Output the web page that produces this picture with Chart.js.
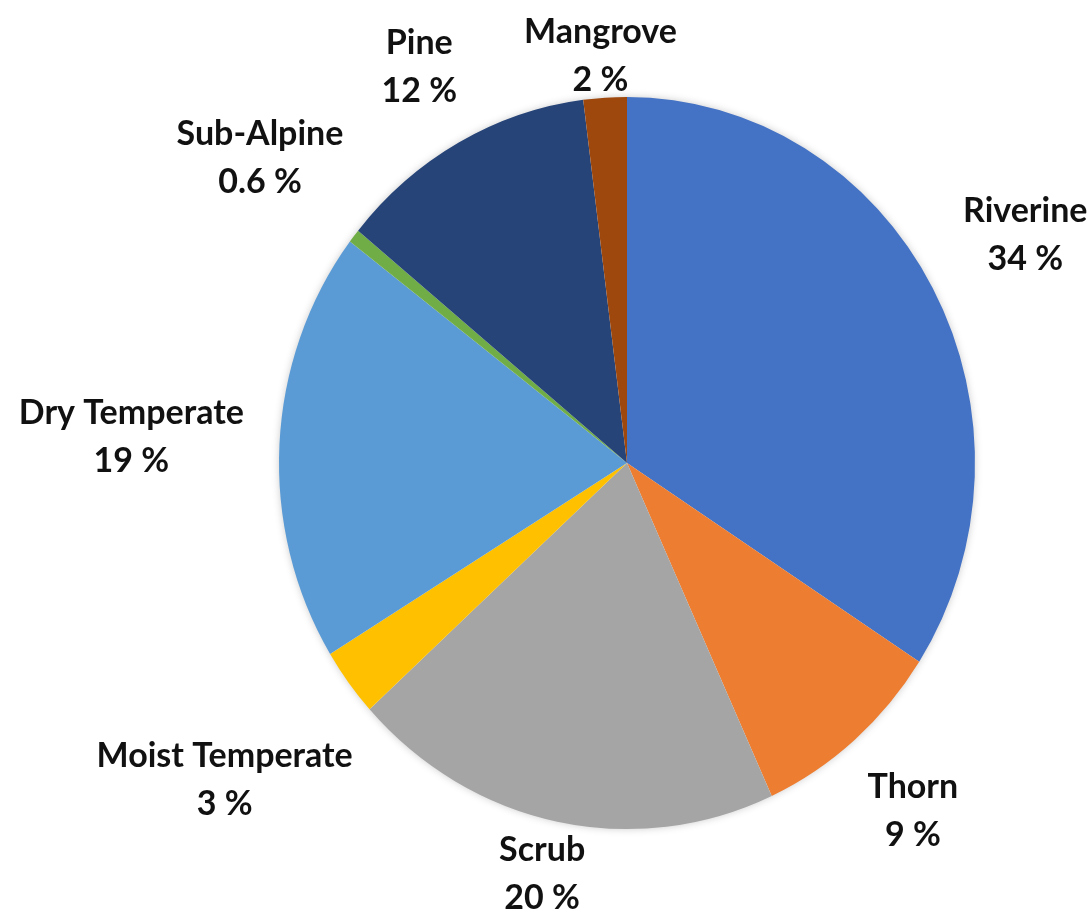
<!DOCTYPE html>
<html><head><meta charset="utf-8">
<script src="https://cdn.jsdelivr.net/npm/chart.js@4"></script>
<style>html,body{margin:0;padding:0;background:#fff;overflow:hidden}#wrap{width:1091px;height:912px}</style>
</head><body><div id="wrap"><canvas id="c" width="1091" height="912"></canvas></div>
<script>
const categories = ['Riverine','Thorn','Scrub','Moist Temperate','Dry Temperate','Sub-Alpine','Pine','Mangrove'];
const shares = [34, 9, 20, 3, 19, 0.6, 12, 2];
const sliceColors = ['#4472C4','#ED7D31','#A5A5A5','#FFC000','#5B9BD5','#70AD47','#264478','#9E480E'];

const Y_STRETCH = 1.052;
const FONT_SIZE = 34, LINE_H = 48, GAP = 34;

const stretchPlugin = {
  id: 'stretch',
  beforeDatasetsDraw(chart) {
    const a = chart.getDatasetMeta(0).data[0];
    const {x, y, outerRadius} = a.getProps(['x','y','outerRadius'], true);
    const ctx = chart.ctx;
    ctx.save();
    ctx.translate(x, y); ctx.scale(1, Y_STRETCH);
    ctx.beginPath(); ctx.arc(0, 0, outerRadius - 1, 0, Math.PI * 2);
    ctx.shadowColor = 'rgba(0,0,0,0.25)'; ctx.shadowBlur = 9;
    ctx.fillStyle = '#fff'; ctx.fill();
    ctx.restore();
    ctx.save();
    ctx.translate(x, y); ctx.scale(1, Y_STRETCH); ctx.translate(-x, -y);
  },
  afterDatasetsDraw(chart) { chart.ctx.restore(); }
};

const labelPlugin = {
  id: 'outLabels',
  afterDraw(chart) {
    const ctx = chart.ctx, H = chart.height;
    const meta = chart.getDatasetMeta(0);
    ctx.save();
    ctx.font = `bold ${FONT_SIZE}px Lato`;
    ctx.fillStyle = '#111111';
    ctx.textAlign = 'center'; ctx.textBaseline = 'middle';
    meta.data.forEach((arc, i) => {
      const p = arc.getProps(['x','y','startAngle','endAngle','outerRadius'], true);
      const mid = (p.startAngle + p.endAngle) / 2;
      const ex = p.x + Math.cos(mid) * p.outerRadius;
      const ey = p.y + Math.sin(mid) * p.outerRadius * Y_STRETCH;
      let dx = Math.cos(mid), dy = Math.sin(mid) * Y_STRETCH;
      const n = Math.hypot(dx, dy); dx /= n; dy /= n;
      const lines = [categories[i], shares[i] + ' %'];
      const w = Math.max(...lines.map(l => ctx.measureText(l).width));
      const h = LINE_H + FONT_SIZE * 0.8;
      const sup = Math.abs(dx) * w / 2 + Math.abs(dy) * h / 2;
      const d = GAP + sup;
      let cx = ex + dx * d, cy = ey + dy * d;
      if (cy - h / 2 < 18) cy = 18 + h / 2;
      if (cy + h / 2 > H) cy = H - h / 2;
      ctx.fillText(lines[0], cx, cy - LINE_H / 2);
      ctx.fillText(lines[1], cx, cy + LINE_H / 2);
    });
    ctx.restore();
  }
};

new Chart(document.getElementById('c'), {
  type: 'pie',
  data: {
    labels: categories,
    datasets: [{ data: shares, backgroundColor: sliceColors, borderWidth: 0 }]
  },
  options: {
    responsive: false,
    animation: false,
    layout: { padding: { left: 279, right: 116, top: 115, bottom: 101 } },
    plugins: { legend: { display: false }, tooltip: { enabled: false } }
  },
  plugins: [stretchPlugin, labelPlugin]
});
</script></body></html>
